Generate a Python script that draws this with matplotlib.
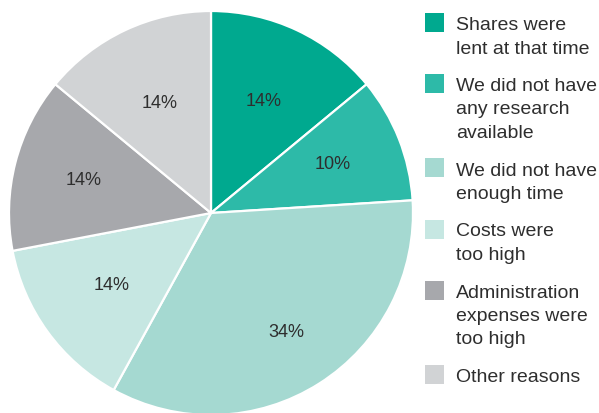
import matplotlib
matplotlib.use("Agg")
import numpy as np
import matplotlib.pyplot as plt
from matplotlib.patches import Rectangle

categories = [
    "Shares were\nlent at that time",
    "We did not have\nany research\navailable",
    "We did not have\nenough time",
    "Costs were\ntoo high",
    "Administration\nexpenses were\ntoo high",
    "Other reasons",
]
values = [14, 10, 34, 14, 14, 14]
colors = ["#00A98F", "#2DBAA8", "#A5D9D1", "#C6E7E2", "#A7A8AC", "#D1D3D5"]
label_dist = [0.61, 0.65, 0.70, 0.61, 0.65, 0.60]

W, H = 599, 413
fig = plt.figure(figsize=(W / 100, H / 100), dpi=100)
plt.rcParams['font.family'] = ['Liberation Sans', 'DejaVu Sans']

def fx(px):
    return px / W

def fy(py):
    return 1 - py / H

# pie axes: centre (211, 213) px, radius 202 px
cx, cy, r = 211, 213, 202
ax = fig.add_axes([fx(cx - r), fy(cy + r), 2 * r / W, 2 * r / H])
wedges, texts = ax.pie(
    values,
    colors=colors,
    startangle=90,
    counterclock=False,
    labels=[f"{v}%" for v in values],
    labeldistance=0.63,
    wedgeprops=dict(edgecolor="white", linewidth=1.6),
    textprops=dict(fontsize=13, color="#2e2e2e", ha="center", va="center"),
)
for w, t, d in zip(wedges, texts, label_dist):
    mid = np.deg2rad((w.theta1 + w.theta2) / 2)
    t.set_position((d * np.cos(mid), d * np.sin(mid)))
ax.set_xlim(-1, 1)
ax.set_ylim(-1, 1)
ax.set_aspect("equal")
ax.axis("off")

# legend, drawn manually so the swatch aligns with the first line
top = 13
sq = 19
line_h = 23.5
for cat, col in zip(categories, colors):
    fig.patches.append(Rectangle((fx(425), fy(top + sq)), sq / W, sq / H,
                                 transform=fig.transFigure, facecolor=col,
                                 edgecolor="none"))
    lines = cat.split("\n")
    for i, ln in enumerate(lines):
        fig.text(fx(456), fy(top + 17 + i * line_h), ln, fontsize=14,
                 color="#2e2e2e", ha="left", va="baseline")
    top += len(lines) * line_h + 14

fig.savefig("out.png", dpi=100)
